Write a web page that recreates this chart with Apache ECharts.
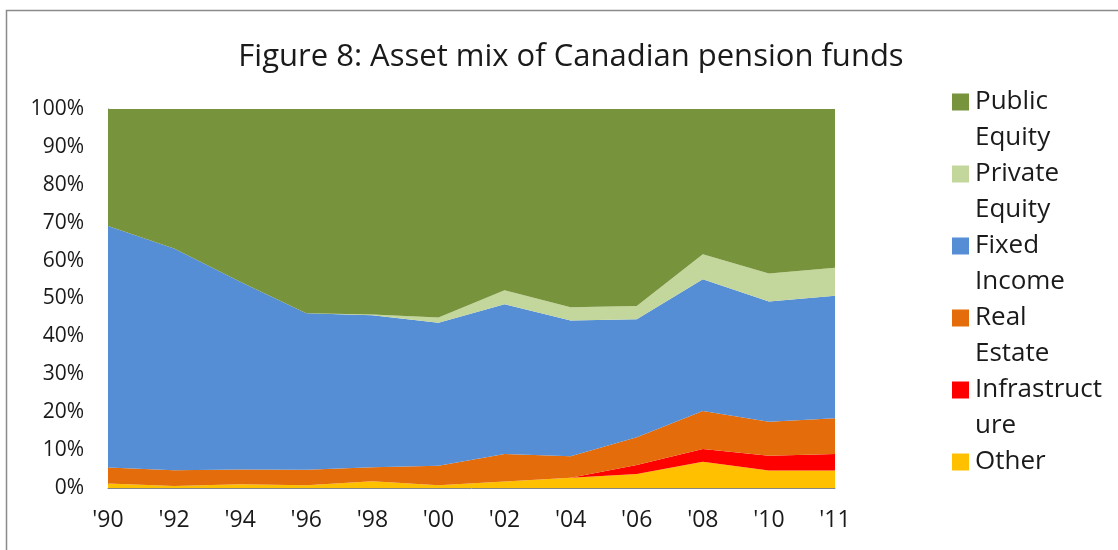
<!DOCTYPE html>
<html>
<head>
<meta charset="utf-8">
<script src="https://cdn.jsdelivr.net/npm/echarts@6/dist/echarts.min.js"></script>
<style>
  html, body { margin: 0; padding: 0; background: #fff; }
  #chart { width: 1118px; height: 550px; }
</style>
</head>
<body>
<div id="chart"></div>
<script>
// years on the x axis
const years = ["'90", "'92", "'94", "'96", "'98", "'00", "'02", "'04", "'06", "'08", "'10", "'11"];

// shares in % (bottom of stack first)
const other          = [1.2, 0.5, 1.0, 0.7, 1.8, 0.7, 1.7, 2.7, 3.7, 6.9, 4.6, 4.6];
const infrastructure = [0, 0, 0, 0, 0, 0, 0, 0, 2.4, 3.4, 3.9, 4.4];
const realEstate     = [4.2, 4.2, 3.9, 4.1, 3.7, 5.2, 7.3, 5.7, 7.3, 10.0, 9.0, 9.4];
const fixedIncome    = [63.7, 58.5, 49.5, 41.3, 40.1, 37.7, 39.5, 35.8, 31.1, 34.8, 31.7, 32.3];
const privateEquity  = [0, 0, 0, 0, 0.2, 1.4, 3.7, 3.5, 3.5, 6.6, 7.4, 7.4];
const publicEquity   = [30.9, 36.8, 45.6, 53.9, 54.2, 55.0, 47.8, 52.3, 52.0, 38.3, 43.4, 41.9];

const legendNames = ['Public Equity', 'Private Equity', 'Fixed Income', 'Real Estate', 'Infrastructure', 'Other'];
const legendWrap = {
    'Public Equity': 'Public\nEquity',
    'Private Equity': 'Private\nEquity',
    'Fixed Income': 'Fixed\nIncome',
    'Real Estate': 'Real\nEstate',
    'Infrastructure': 'Infrastruct\nure',
    'Other': 'Other\n '
};

const font = '"Open Sans", "Noto Sans", sans-serif';

function areaSeries(name, data, color) {
    return {
        name: name,
        type: 'line',
        stack: 'mix',
        data: data,
        symbol: 'none',
        lineStyle: { width: 0 },
        itemStyle: { color: color },
        areaStyle: { color: color, opacity: 1 }
    };
}

const chart = echarts.init(document.getElementById('chart'), null, { renderer: 'canvas' });

const option = {
    backgroundColor: '#fff',
    animation: false,
    title: {
        text: 'Figure 8: Asset mix of Canadian pension funds',
        left: 566,
        textAlign: 'center',
        top: 37,
        textStyle: { fontFamily: font, fontSize: 31, fontWeight: 'normal', color: '#1a1a1a' }
    },
    graphic: [{
        type: 'rect',
        shape: { x: 6.5, y: 10.5, width: 1130, height: 560 },
        style: { fill: 'none', stroke: '#8a8a8a', lineWidth: 1.5 },
        silent: true
    }],
    legend: {
        orient: 'vertical',
        left: 947,
        top: 43,
        itemWidth: 17,
        itemHeight: 17,
        itemGap: -36,
        icon: 'rect',
        data: legendNames,
        formatter: name => '\n' + legendWrap[name],
        textStyle: { fontFamily: font, fontSize: 26, color: '#1a1a1a', lineHeight: 36, padding: [0, 0, 0, 1] }
    },
    grid: { left: 108, right: 283, top: 109, bottom: 62 },
    xAxis: {
        type: 'category',
        data: years,
        boundaryGap: false,
        axisLine: { lineStyle: { color: '#868686', width: 1 } },
        axisTick: { show: false },
        axisLabel: { fontFamily: font, fontSize: 23, color: '#1a1a1a', margin: 21 }
    },
    yAxis: {
        type: 'value',
        min: 0,
        max: 100,
        interval: 10,
        axisLine: { show: true, lineStyle: { color: '#868686', width: 1 } },
        axisTick: { show: false },
        splitLine: { show: false },
        axisLabel: { fontFamily: font, fontSize: 21, color: '#1a1a1a', margin: 24, formatter: '{value}%' }
    },
    series: [
        areaSeries('Other', other, '#FFC000'),
        areaSeries('Infrastructure', infrastructure, '#FF0000'),
        areaSeries('Real Estate', realEstate, '#E46C0A'),
        areaSeries('Fixed Income', fixedIncome, '#558ED5'),
        areaSeries('Private Equity', privateEquity, '#C3D69B'),
        areaSeries('Public Equity', publicEquity, '#77933C')
    ]
};

chart.setOption(option);
</script>
</body>
</html>
